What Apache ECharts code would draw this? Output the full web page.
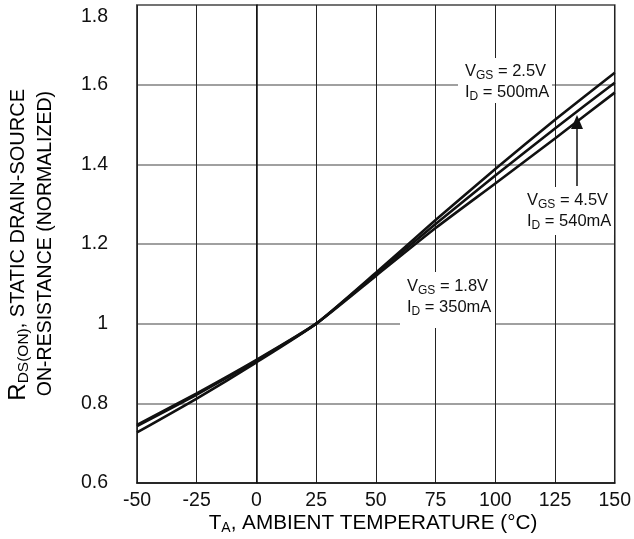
<!DOCTYPE html>
<html>
<head>
<meta charset="utf-8">
<script src="https://cdn.jsdelivr.net/npm/echarts@6/dist/echarts.min.js"></script>
<style>
html,body{margin:0;padding:0;background:#fff;}
#chart{width:634px;height:539px;}
</style>
</head>
<body>
<div id="chart"></div>
<script>
// Data
var temps = [-50, -25, 0, 25, 50, 75, 100, 125, 150];
var vgs25 = [0.727, 0.812, 0.903, 1.0, 1.128, 1.260, 1.388, 1.512, 1.630];
var vgs45 = [0.743, 0.822, 0.907, 1.0, 1.125, 1.250, 1.372, 1.490, 1.605];
var vgs18 = [0.746, 0.825, 0.909, 1.0, 1.120, 1.240, 1.352, 1.465, 1.580];
var xTicks = [-50, -25, 0, 25, 50, 75, 100, 125, 150];
var yTicks = [0.6, 0.8, 1.0, 1.2, 1.4, 1.6, 1.8];

function zip(xs, ys) { return xs.map(function (x, i) { return [x, ys[i]]; }); }

var FONT = 'Liberation Sans, Arial, sans-serif';
var chart = echarts.init(document.getElementById('chart'));

function lineSeries(name, vals) {
  return {
    name: name, type: 'line', data: zip(temps, vals), smooth: 0.2,
    symbol: 'none', lineStyle: { color: '#111', width: 2.6 }, z: 3
  };
}

var annRich = {
  v: { fontSize: 16.5, lineHeight: 21, fontFamily: FONT, color: '#111' },
  s: { fontSize: 12, lineHeight: 9, verticalAlign: 'bottom', fontFamily: FONT, color: '#111' }
};

function ann(x, y, text) {
  return {
    type: 'text', x: x, y: y, z: 20,
    style: { text: text, rich: annRich, align: 'left', verticalAlign: 'middle', fill: '#111', font: '16px ' + FONT }
  };
}
function box(x1, y1, x2, y2) {
  return { type: 'rect', z: 1, shape: { x: x1, y: y1, width: x2 - x1, height: y2 - y1 }, style: { fill: '#fff' } };
}

var yTitleRich1 = {
  r: { fontSize: 24, lineHeight: 28, fontFamily: FONT, color: '#111' },
  m: { fontSize: 20, lineHeight: 28, fontFamily: FONT, color: '#111' },
  s: { fontSize: 15.5, lineHeight: 9, verticalAlign: 'bottom', fontFamily: FONT, color: '#111' }
};
var yTitleRich2 = {
  m: { fontSize: 19.5, lineHeight: 26, fontFamily: FONT, color: '#111' }
};
var xTitleRich = {
  m: { fontSize: 20.7, lineHeight: 24, fontFamily: FONT, color: '#111' },
  s: { fontSize: 14, lineHeight: 11, verticalAlign: 'bottom', fontFamily: FONT, color: '#111' }
};

var option = {
  backgroundColor: '#fff',
  animation: false,
  grid: { left: 137, right: 17, top: 5, bottom: 56, show: true, borderColor: '#111', borderWidth: 1.5, backgroundColor: 'transparent' },
  xAxis: {
    type: 'value', min: xTicks[0], max: xTicks[xTicks.length - 1], interval: 25,
    axisLine: { show: true, lineStyle: { color: '#111', width: 1.5 } },
    axisTick: { show: false },
    axisLabel: { color: '#111', fontSize: 19.5, fontFamily: FONT, margin: 8 },
    splitLine: { show: true, lineStyle: { color: '#222', width: 1 } }
  },
  yAxis: {
    type: 'value', min: yTicks[0], max: yTicks[yTicks.length - 1], interval: 0.2,
    axisLine: { show: true, lineStyle: { color: '#111', width: 1.5 } },
    axisTick: { show: false },
    axisLabel: {
      color: '#111', fontSize: 19.5, fontFamily: FONT, margin: 29,
      formatter: function (val) {
        var v = Math.round(val * 10) / 10;
        var s = v === 1 ? '1' : v.toFixed(1);
        if (v === 1.8) return '{t|' + s + '}';
        return s;
      },
      rich: { t: { fontSize: 19.5, fontFamily: FONT, color: '#111', padding: [24, 0, 0, 0] } }
    },
    splitLine: { show: true, lineStyle: { color: '#808080', width: 1.5 } }
  },
  series: [
    lineSeries('VGS = 2.5V', vgs25),
    lineSeries('VGS = 4.5V', vgs45),
    lineSeries('VGS = 1.8V', vgs18)
  ],
  graphic: [
    box(458, 58, 552, 103),
    box(520, 187, 614, 235),
    box(400, 272, 495, 328),
    ann(465, 82, '{v|V}{s|GS}{v| = 2.5V}\n{v|I}{s|D}{v| = 500mA}'),
    ann(527, 211, '{v|V}{s|GS}{v| = 4.5V}\n{v|I}{s|D}{v| = 540mA}'),
    ann(407, 297, '{v|V}{s|GS}{v| = 1.8V}\n{v|I}{s|D}{v| = 350mA}'),
    { type: 'line', z: 20, shape: { x1: 577, y1: 186, x2: 577, y2: 126 }, style: { stroke: '#111', lineWidth: 1.5 } },
    { type: 'polygon', z: 20, shape: { points: [[577, 115], [571, 129], [583, 129]] }, style: { fill: '#111' } },
    {
      type: 'text', x: 18, y: 89, rotation: Math.PI / 2, z: 20,
      style: { text: '{r|R}{s|DS(ON)}{m|, STATIC DRAIN-SOURCE}', rich: yTitleRich1, align: 'right', verticalAlign: 'middle', font: '20px ' + FONT }
    },
    {
      type: 'text', x: 46, y: 91, rotation: Math.PI / 2, z: 20,
      style: { text: '{m|ON-RESISTANCE (NORMALIZED)}', rich: yTitleRich2, align: 'right', verticalAlign: 'middle', font: '19px ' + FONT }
    },
    {
      type: 'text', x: 373, y: 523, z: 20,
      style: { text: '{m|T}{s|A}{m|, AMBIENT TEMPERATURE (°C)}', rich: xTitleRich, align: 'center', verticalAlign: 'middle', font: '20px ' + FONT }
    }
  ]
};
chart.setOption(option);
</script>
</body>
</html>
